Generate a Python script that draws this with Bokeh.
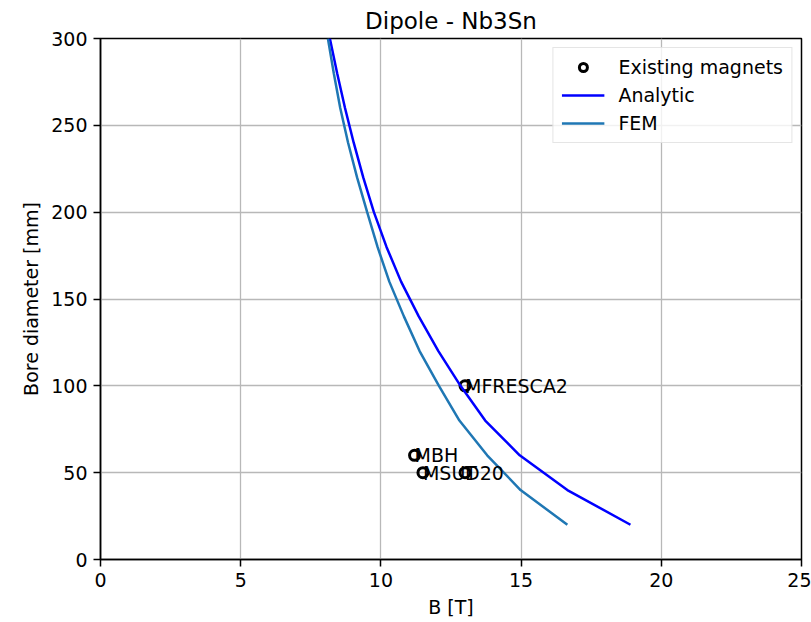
from bokeh.plotting import figure
from bokeh.models import Range1d, FixedTicker, Legend, LegendItem, ColumnDataSource
from bokeh.core.properties import value
from bokeh.embed import file_html
from bokeh.resources import INLINE

# ---- data ----
bore_analytic = [20, 40, 60, 80, 100, 120, 140, 160, 180, 200, 220, 240, 260, 280, 300]
b_analytic = [18.9, 16.65, 14.95, 13.72, 12.84, 12.05, 11.35, 10.72, 10.2, 9.75, 9.37, 9.03, 8.72, 8.44, 8.18]

bore_fem = [20, 40, 60, 80, 100, 120, 140, 160, 180, 200, 220, 240, 260, 280, 300]
b_fem = [16.65, 14.98, 13.79, 12.8, 12.07, 11.38, 10.82, 10.3, 9.88, 9.51, 9.15, 8.83, 8.55, 8.32, 8.11]

magnet_names = ["MFRESCA2", "MBH", "MSUT", "D20"]
magnet_b = [13.0, 11.2, 11.5, 13.0]
magnet_bore = [100, 60, 50, 50]

x_ticks = [0, 5, 10, 15, 20, 25]
y_ticks = [0, 50, 100, 150, 200, 250, 300]

FONT = "DejaVu Sans"
FS = "19px"

p = figure(width=811, height=622, output_backend="svg", toolbar_location=None,
           x_range=Range1d(0, 25), y_range=Range1d(0, 300),
           min_border_left=100, min_border_right=10, min_border_top=38, min_border_bottom=63,
           title="Dipole - Nb3Sn")

p.title.align = "center"
p.title.text_font = FONT
p.title.text_font_size = "23px"
p.title.text_font_style = "normal"
p.title.text_color = "black"
p.title.standoff = 9

p.background_fill_color = "white"
p.border_fill_color = "white"
p.outline_line_color = "black"
p.outline_line_width = 1.5
p.outline_line_alpha = 1.0

for ax in (p.xaxis[0], p.yaxis[0]):
    ax.axis_line_color = "black"
    ax.axis_line_width = 1.5
    ax.major_tick_line_color = "black"
    ax.major_tick_line_width = 1.5
    ax.major_tick_out = 7
    ax.major_tick_in = 0
    ax.minor_tick_line_color = None
    ax.major_label_text_font = FONT
    ax.major_label_text_font_size = FS
    ax.major_label_text_color = "black"
    ax.major_label_standoff = 6
    ax.axis_label_text_font = FONT
    ax.axis_label_text_font_size = FS
    ax.axis_label_text_font_style = "normal"
    ax.axis_label_text_color = "black"
    ax.axis_label_standoff = 6

p.xaxis[0].ticker = FixedTicker(ticks=x_ticks)
p.yaxis[0].ticker = FixedTicker(ticks=y_ticks)
p.xaxis[0].axis_label = "B [T]"
p.yaxis[0].axis_label = "Bore diameter [mm]"

p.grid.grid_line_color = "#b8b8b8"
p.grid.grid_line_width = 1.3
p.xgrid.ticker = FixedTicker(ticks=x_ticks)
p.ygrid.ticker = FixedTicker(ticks=y_ticks)

src_m = ColumnDataSource(dict(x=magnet_b, y=magnet_bore, name=magnet_names))
r_m = p.scatter("x", "y", source=src_m, marker="circle", size=10, fill_color=None,
                line_color="black", line_width=3)
r_a = p.line(b_analytic, bore_analytic, line_color="#0000ff", line_width=2.5)
r_f = p.line(b_fem, bore_fem, line_color="#1f77b4", line_width=2.5)

p.text("x", "y", text="name", source=src_m, text_align="left", text_baseline="alphabetic",
       text_font=value(FONT), text_font_size=FS, text_color="black")

legend = Legend(items=[
    LegendItem(label="Existing magnets", renderers=[r_m]),
    LegendItem(label="Analytic", renderers=[r_a]),
    LegendItem(label="FEM", renderers=[r_f]),
], location="top_right")
legend.margin = 9
legend.padding = 8
legend.spacing = 6
legend.glyph_width = 43
legend.glyph_height = 20
legend.label_height = 20
legend.label_standoff = 14
legend.label_text_font = FONT
legend.label_text_font_size = FS
legend.label_text_color = "black"
legend.border_line_color = "#cccccc"
legend.border_line_width = 1.5
legend.background_fill_color = "white"
legend.background_fill_alpha = 0.8
p.add_layout(legend, "center")

open("out.html", "w").write(file_html(p, INLINE))
